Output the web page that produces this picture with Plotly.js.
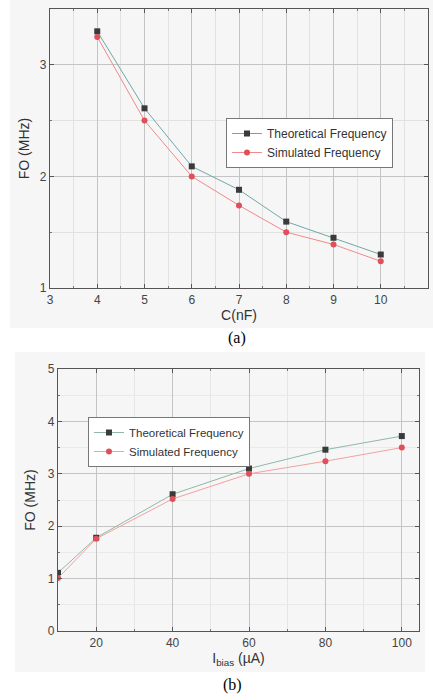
<!DOCTYPE html>
<html>
<head>
<meta charset="utf-8">
<script src="https://cdn.plot.ly/plotly-3.0.1.min.js"></script>
<style>html,body{margin:0;padding:0;background:#fff;}#chart{width:433px;height:700px;}</style>
</head>
<body>
<div id="chart"></div>
<script>
// Chart (a): frequency vs capacitance
const capNF = [4, 5, 6, 7, 8, 9, 10];
const theoA = [3.30, 2.61, 2.09, 1.88, 1.595, 1.45, 1.30];
const simA  = [3.25, 2.50, 2.00, 1.74, 1.50, 1.39, 1.24];

// Chart (b): frequency vs bias current
const ibias = [10, 20, 40, 60, 80, 100];
const theoB = [1.11, 1.78, 2.61, 3.10, 3.46, 3.72];
const simB  = [1.01, 1.76, 2.52, 3.00, 3.24, 3.50];

const xTicksA = [3, 4, 5, 6, 7, 8, 9, 10, 11];
const yTicksA = [1, 2, 3];
const xTicksB = [20, 40, 60, 80, 100];
const yTicksB = [0, 1, 2, 3, 4, 5];

const nameT = 'Theoretical Frequency';
const nameS = 'Simulated Frequency';

const FAM = '"Liberation Sans", Arial, sans-serif';
const tickFont = {family: FAM, size: 12, color: '#444'};
const titleFont = {family: FAM, size: 14, color: '#333'};

const traces = [
  {x: capNF, y: theoA, name: nameT, mode: 'lines+markers', xaxis: 'x', yaxis: 'y', legend: 'legend',
   line: {color: '#6fa9a6', width: 1}, marker: {symbol: 'square', size: 6, color: '#3a3a3a'}},
  {x: capNF, y: simA, name: nameS, mode: 'lines+markers', xaxis: 'x', yaxis: 'y', legend: 'legend',
   line: {color: '#f08a8a', width: 1}, marker: {symbol: 'circle', size: 6, color: '#e0505a'}},
  {x: ibias, y: theoB, name: nameT, mode: 'lines+markers', xaxis: 'x2', yaxis: 'y2', legend: 'legend2',
   line: {color: '#8fb8a8', width: 1}, marker: {symbol: 'square', size: 6, color: '#3a3a3a'}},
  {x: ibias, y: simB, name: nameS, mode: 'lines+markers', xaxis: 'x2', yaxis: 'y2', legend: 'legend2',
   line: {color: '#f5a0a0', width: 1}, marker: {symbol: 'circle', size: 6, color: '#e0505a'}}
];

const axBase = {
  showline: true, linecolor: '#555', linewidth: 1.2, mirror: 'ticks',
  ticks: 'inside', ticklen: 4, tickcolor: '#555',
  tickfont: tickFont, zeroline: false, showgrid: true,
  gridcolor: '#c4c4c4', gridwidth: 1
};

const layout = {
  width: 433, height: 700,
  margin: {l: 0, r: 0, t: 0, b: 0},
  paper_bgcolor: '#ffffff', plot_bgcolor: '#ffffff',
  showlegend: true,
  xaxis: Object.assign({}, axBase, {
    domain: [50/433, 428/433], anchor: 'y', range: [3, 11],
    tickvals: xTicksA, ticktext: xTicksA.map(String),
    minor: {dtick: 0.5, tick0: 3, ticks: 'inside', ticklen: 2, tickcolor: '#777', showgrid: true, gridcolor: '#e2e2e2'},
    title: {text: 'C(nF)', font: titleFont, standoff: 2}
  }),
  yaxis: Object.assign({}, axBase, {
    domain: [1 - 288/700, 1 - 9/700], anchor: 'x', range: [1, 3.5],
    tickvals: yTicksA, ticktext: yTicksA.map(String),
    minor: {dtick: 0.5, tick0: 1, ticks: 'inside', ticklen: 2, tickcolor: '#777', showgrid: true, gridcolor: '#e2e2e2'},
    title: {text: 'FO (MHz)', font: titleFont, standoff: 6}
  }),
  xaxis2: Object.assign({}, axBase, {
    domain: [58/433, 419/433], anchor: 'y2', range: [10, 104.5],
    tickvals: xTicksB, ticktext: xTicksB.map(String),
    minor: {dtick: 10, tick0: 0, ticks: 'inside', ticklen: 2, tickcolor: '#777', showgrid: true, gridcolor: '#e6e6e6'},
    title: {text: 'I<sub>bias</sub> (µA)', font: titleFont, standoff: 0}
  }),
  yaxis2: Object.assign({}, axBase, {
    domain: [1 - 631/700, 1 - 369/700], anchor: 'x2', range: [0, 5],
    tickvals: yTicksB, ticktext: yTicksB.map(String),
    minor: {dtick: 0.5, tick0: 0, ticks: 'inside', ticklen: 2, tickcolor: '#777', showgrid: true, gridcolor: '#eaeaea'},
    title: {text: 'FO (MHz)', font: titleFont, standoff: 8}
  }),
  legend: {
    x: 226/433, y: 1 - 118/700, xanchor: 'left', yanchor: 'top',
    bgcolor: '#ffffff', bordercolor: '#777', borderwidth: 1,
    font: {family: FAM, size: 12, color: '#333'},
    itemwidth: 30, tracegroupgap: 0
  },
  legend2: {
    x: 88/433, y: 1 - 417/700, xanchor: 'left', yanchor: 'top',
    bgcolor: '#ffffff', bordercolor: '#777', borderwidth: 1,
    font: {family: FAM, size: 11.5, color: '#333'},
    itemwidth: 30, tracegroupgap: 0
  },
  shapes: [
    {type: 'rect', xref: 'paper', yref: 'paper', x0: 10/433, x1: 1, y0: 1 - 328/700, y1: 1,
     fillcolor: '#f6f6f6', line: {width: 0}, layer: 'below'},
    {type: 'rect', xref: 'paper', yref: 'paper', x0: 15/433, x1: 425/433, y0: 1 - 672/700, y1: 1 - 352/700,
     fillcolor: '#f6f6f6', line: {width: 0}, layer: 'below'}
  ],
  annotations: [
    {text: '(a)', xref: 'paper', yref: 'paper', x: 237/433, y: 1 - 338/700, xanchor: 'center', yanchor: 'middle',
     showarrow: false, font: {family: '"Liberation Serif", "Times New Roman", serif', size: 16, color: '#000'}},
    {text: '(b)', xref: 'paper', yref: 'paper', x: 232/433, y: 1 - 685/700, xanchor: 'center', yanchor: 'middle',
     showarrow: false, font: {family: '"Liberation Serif", "Times New Roman", serif', size: 16, color: '#000'}}
  ]
};

Plotly.newPlot('chart', traces, layout, {displayModeBar: false, staticPlot: true});
</script>
</body>
</html>
